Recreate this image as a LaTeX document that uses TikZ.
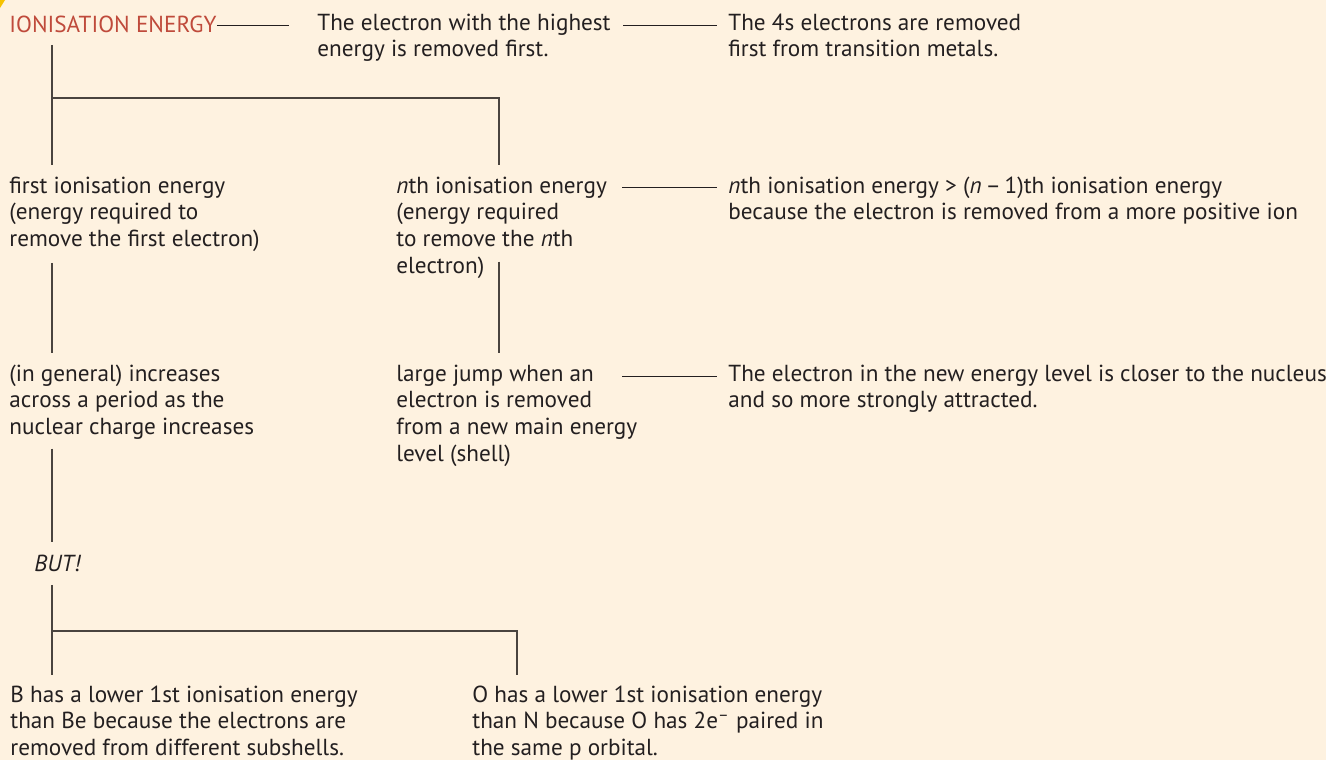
\documentclass[tikz,border=0pt]{standalone}
\usepackage{fontspec}
\setmainfont{PT Sans}
\usepackage{xcolor}
\definecolor{paper}{HTML}{FEF2E0}
\definecolor{rust}{HTML}{BF4A3B}
\definecolor{ink}{HTML}{231F20}
\definecolor{branch}{HTML}{4A443F}
\definecolor{tab}{HTML}{F6C200}
\usetikzlibrary{positioning}

\begin{document}
\begin{tikzpicture}[
    x=0.5pt, y=-0.5pt,
    txt/.style={
        anchor=north west, yshift=9.345pt, inner sep=0pt, align=left,
        font=\fontsize{11.6}{13.35}\selectfont, text=ink,
        execute at begin node=\strut, execute at end node=\strut
    },
    head/.style={txt, text=rust},
    tree/.style={draw=branch, line width=0.65pt},
    link/.style={draw=ink, line width=0.6pt}
]
    % page
    \fill[paper] (0,0) rectangle (1326,760);
    \useasboundingbox (0,0) rectangle (1326,760);
    \fill[tab] (0,0) -- (5,0) -- (0,8) -- cycle;

    % texts, placed at the baseline of their first line
    \node[head] (title)  at (9,32)    {IONISATION ENERGY};
    \node[txt]  (hi)     at (317,32)  {The electron with the highest\\energy is removed first.};
    \node[txt]  (fours)  at (728,32)  {The 4s electrons are removed\\first from transition metals.};
    \node[txt]  (first)  at (9,195)   {first ionisation energy\\(energy required to\\remove the first electron)};
    \node[txt]  (nth)    at (396,195) {\textit{n}th ionisation energy\\(energy required\\to remove the \textit{n}th\\electron)};
    \node[txt]  (ratio)  at (728,195) {\textit{n}th ionisation energy > (\textit{n}\,–\,1)th ionisation energy\\because the electron is removed from a more positive ion};
    \node[txt]  (general) at (9,383)  {(in general) increases\\across a period as the\\nuclear charge increases};
    \node[txt]  (jump)   at (396,383) {large jump when an\\electron is removed\\from a new main energy\\level (shell)};
    \node[txt]  (closer) at (728,383) {The electron in the new energy level is closer to the nucleus\\and so more strongly attracted.};
    \node[txt]  (but)    at (34,571)  {\textit{BUT!}};
    \node[txt]  (boron)  at (10,704)  {B has a lower 1st ionisation energy\\than Be because the electrons are\\removed from different subshells.};
    \node[txt]  (oxygen) at (472,704) {O has a lower 1st ionisation energy\\than N because O has 2e\textsuperscript{–} paired in\\the same p orbital.};

    % side links
    \draw[link] ([yshift=-6.1pt]title.north east) -- ([yshift=-6.1pt, xshift=-14pt]hi.north west);
    \draw[link] ([yshift=-6.1pt, xshift=153pt]hi.north west) -- ([yshift=-6.1pt, xshift=-5.5pt]fours.north west);
    \draw[link] ([yshift=-5.7pt, xshift=113pt]nth.north west) -- ([yshift=-5.7pt, xshift=-5.5pt]ratio.north west);
    \draw[link] ([yshift=-6.1pt, xshift=113pt]jump.north west) -- ([yshift=-6.1pt, xshift=-5.5pt]closer.north west);

    % tree
    \coordinate (forka) at (52,98);
    \coordinate (forkb) at (499,98);
    \coordinate (forkc) at (52,631);
    \coordinate (forkd) at (517,631);
    \draw[tree] ([yshift=-2pt]title.south -| forka) -- ([yshift=5.65pt]first.north -| forka);
    \draw[tree] (forka) -- (forkb) -- ([yshift=5.65pt]nth.north -| forkb);
    \draw[tree] ([yshift=-4pt]first.south -| forka) -- ([yshift=5.65pt]general.north -| forka);
    \draw[tree] ([yshift=10pt]nth.south -| forkb) -- ([yshift=5.65pt]jump.north -| forkb);
    \draw[tree] ([yshift=-2.8pt]general.south -| forka) -- ([yshift=5.15pt]but.north -| forka);
    \draw[tree] ([yshift=-2.5pt]but.south -| forka) -- ([yshift=5.15pt]boron.north -| forka);
    \draw[tree] (forkc) -- (forkd) -- ([yshift=5.15pt]oxygen.north -| forkd);
\end{tikzpicture}
\end{document}
